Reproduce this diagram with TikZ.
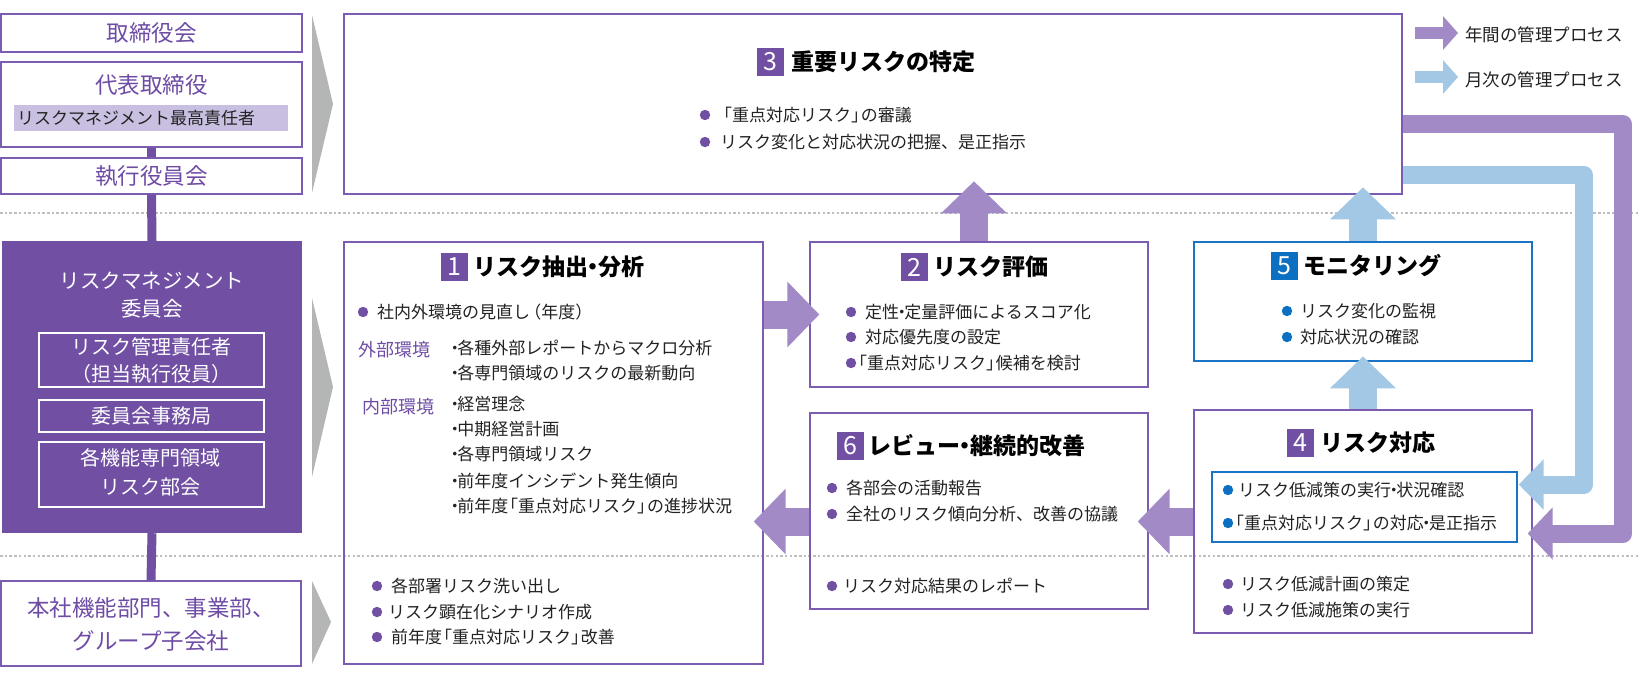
\documentclass[tikz,border=0pt]{standalone}
\usepackage{fontspec}
\setmainfont{Noto Sans CJK JP}
\usetikzlibrary{arrows.meta,calc}
\definecolor{pdark}{HTML}{7150A4}
\definecolor{parrow}{HTML}{A28AC7}
\definecolor{lblue}{HTML}{A3C8E5}
\definecolor{pborder}{HTML}{7B5CB0}
\definecolor{bblue}{HTML}{1A73C4}
\definecolor{bdot}{HTML}{0B6FC2}
\definecolor{hlbar}{HTML}{C9BFE0}
\definecolor{gchev}{HTML}{B4B5B5}
\definecolor{dotgray}{HTML}{BEBEBE}
\definecolor{tdark}{HTML}{222222}
\definecolor{ltext}{HTML}{6E4CA5}
\newcommand\tdot{{\kern-0.28em・\kern-0.28em}}
\newcommand\ndot{{\kern-0.35em・\kern-0.35em}}
\newcommand\lbr{{\kern-0.42em「}}
\newcommand\rbr{{」\kern-0.42em}}
\newcommand\lpar{{\kern-0.35em（}}
\newcommand\rpar{{）\kern-0.35em}}
% name, bullet x, text x, y centre, bullet colour, text
\newcommand\bitem[6]{\fill[#5] (#2,#4) circle (5.2pt); \node[body] (#1) at (#3,#4+6.5) {#6};}
\newcommand\pline[4]{\node[body] (#1) at (#2,#3+6.5) {#4};}
\tikzset{
  pbox/.style={draw=pborder, line width=1.4pt, inner sep=0pt},
  bbox/.style={draw=bblue, line width=1.4pt, inner sep=0pt},
  wbox/.style={draw=white, line width=1.2pt, inner sep=0pt},
  ltxt/.style={text=ltext, font=\fontsize{22.5}{33}\selectfont, align=center, inner sep=0pt},
  wtxt/.style={text=white, font=\fontsize{20}{27}\selectfont, align=center, inner sep=0pt},
  body/.style={text=tdark, font=\fontsize{17}{20}\selectfont, inner sep=0pt, anchor=base west},
  lab/.style={text=ltext, font=\fontsize{18}{20}\selectfont, inner sep=0pt, anchor=base west},
  ttl/.style={text=black, font=\fontsize{23}{26}\selectfont\bfseries, inner sep=0pt, anchor=base west},
  badge/.style={fill=#1, text=white, font=\fontsize{25}{25}\selectfont, minimum width=27pt, minimum height=28pt, inner sep=0pt},
  arrP/.style={color=parrow, line width=28pt, -{Triangle[length=32pt,width=64pt]}},
  arrB/.style={color=lblue, line width=28pt, -{Triangle[length=32pt,width=64pt]}},
  loopP/.style={color=parrow, line width=18pt, line join=round, -{Triangle[length=25pt,width=51pt]}},
  loopB/.style={color=lblue, line width=18pt, line join=round, -{Triangle[length=25pt,width=49pt]}},
  legP/.style={color=parrow, line width=12pt, -{Triangle[length=15pt,width=33pt]}},
  legB/.style={color=lblue, line width=12pt, -{Triangle[length=15pt,width=33pt]}},
  vbar/.style={draw=pdark, line width=9pt},
  dotline/.style={draw=dotgray, line width=2.2pt, dash pattern=on 2.5pt off 2.2pt}
}
\begin{document}
\begin{tikzpicture}[x=1pt,y=-1pt]
\useasboundingbox (0,0) rectangle (1640,680);
\fill[white] (0,0) rectangle (1640,680);
% separators
\draw[dotline] (0,213) -- (1640,213);
\draw[dotline] (0,556) -- (1640,556);
% ---------- left column ----------
\node[pbox, minimum width=301pt, minimum height=38pt] (boardA) at (151.5,33) {};
\node[ltxt] (boardAt) at (151.5,33) {取締役会};
\node[pbox, minimum width=301pt, minimum height=85pt] (boardB) at (151.5,104.5) {};
\node[ltxt] (boardBt) at (151.5,85) {代表取締役};
\node[fill=hlbar, minimum width=274pt, minimum height=26pt, inner sep=0pt] (hl) at (151,118) {};
\node[body, font=\fontsize{17}{20}\selectfont] (hlt) at (17,118+6.5) {リスクマネジメント最高責任者};
\node[pbox, minimum width=301pt, minimum height=36pt] (boardC) at (151.5,176) {};
\node[ltxt] (boardCt) at (151.5,176) {執行役員会};
\node[fill=pdark, minimum width=300pt, minimum height=292pt, inner sep=0pt] (rmc) at (152,387) {};
\node[wtxt, font=\fontsize{20.5}{28}\selectfont] (rmct) at (152,295) {リスクマネジメント\\委員会};
\node[wbox, minimum width=225pt, minimum height=54pt] (rm1) at (151.5,360) {};
\node[wtxt] (rm1t) at (151.5,360.5) {リスク管理責任者\\（担当執行役員）};
\node[wbox, minimum width=225pt, minimum height=32pt] (rm2) at (151.5,416) {};
\node[wtxt] (rm2t) at (151.5,416) {委員会事務局};
\node[wbox, minimum width=225pt, minimum height=65pt] (rm3) at (151.5,474.5) {};
\node[wtxt, font=\fontsize{20}{29}\selectfont] (rm3t) at (150,472.5) {各機能専門領域\\リスク部会};
\node[pbox, minimum width=300pt, minimum height=85pt] (hq) at (151,623.5) {};
\node[ltxt] (hqt) at (151,624.5) {本社機能部門、事業部、\\グループ子会社};
\draw[vbar] (boardB.south) -- (boardC.north);
\draw[vbar] (boardC.south) -- (rmc.north);
\draw[vbar] (rmc.south) -- (hq.north);
% chevrons
\fill[gchev] (312,15) -- (333,104) -- (312,193) -- cycle;
\fill[gchev] (312,298) -- (333,387) -- (312,477) -- cycle;
\fill[gchev] (312,581) -- (331,622) -- (312,664) -- cycle;
% ---------- main boxes ----------
\node[pbox, minimum width=1058pt, minimum height=180pt] (box3) at (873,104) {};
\node[pbox, minimum width=419pt, minimum height=422pt] (box1) at (553.5,453) {};
\node[pbox, minimum width=338pt, minimum height=145pt] (box2) at (979,314.5) {};
\node[pbox, minimum width=338pt, minimum height=196pt] (box6) at (979,511) {};
\node[bbox, minimum width=338pt, minimum height=119pt] (box5) at (1363,301.5) {};
\node[pbox, minimum width=338pt, minimum height=223pt] (box4) at (1363,521.5) {};
\node[bbox, minimum width=305pt, minimum height=70pt] (box4i) at (1364.5,507) {};
% ---------- box 3 ----------
\node[badge=pdark] (n3) at (770.5,62) {3};
\node[ttl] (t3) at (791,62+8.7) {重要リスクの特定};
\bitem{b3a}{705}{722}{115}{pdark}{\lbr 重点対応リスク\rbr の審議}
\bitem{b3b}{705}{720}{142}{pdark}{リスク変化と対応状況の把握、是正指示}
% ---------- box 1 ----------
\node[badge=pdark] (n1) at (454.5,267) {1};
\node[ttl] (t1) at (473,267+8.7) {リスク抽出\tdot 分析};
\bitem{b1a}{363}{377}{312}{pdark}{社内外環境の見直し\lpar 年度\rpar}
\node[lab] (l1ext) at (358,350+6.8) {外部環境};
\pline{b1b}{452}{348}{\ndot 各種外部レポートからマクロ分析}
\pline{b1c}{452}{373}{\ndot 各専門領域のリスクの最新動向}
\node[lab] (l1int) at (362,407+6.8) {内部環境};
\pline{b1d}{452}{404}{\ndot 経営理念}
\pline{b1e}{452}{429}{\ndot 中期経営計画}
\pline{b1f}{452}{454}{\ndot 各専門領域リスク}
\pline{b1g}{452}{481}{\ndot 前年度インシデント発生傾向}
\pline{b1h}{452}{506}{\ndot 前年度\lbr 重点対応リスク\rbr の進捗状況}
\bitem{b1i}{377}{391}{586}{pdark}{各部署リスク洗い出し}
\bitem{b1j}{377}{388}{612}{pdark}{リスク顕在化シナリオ作成}
\bitem{b1k}{377}{391}{637}{pdark}{前年度\lbr 重点対応リスク\rbr 改善}
% ---------- box 2 ----------
\node[badge=pdark] (n2) at (914.5,267) {2};
\node[ttl] (t2) at (933,267+8.7) {リスク評価};
\bitem{b2a}{851}{865}{312}{pdark}{定性\ndot 定量評価によるスコア化}
\bitem{b2b}{851}{865}{337}{pdark}{対応優先度の設定}
\bitem{b2c}{851}{857}{363}{pdark}{\lbr 重点対応リスク\rbr 候補を検討}
% ---------- box 6 ----------
\node[badge=pdark] (n6) at (850,445.5) {6};
\node[ttl] (t6) at (868,445.5+8.7) {レビュー\tdot 継続的改善};
\bitem{b6a}{832}{846}{488}{pdark}{各部会の活動報告}
\bitem{b6b}{832}{846}{514}{pdark}{全社のリスク傾向分析、改善の協議}
\bitem{b6c}{832}{843}{586}{pdark}{リスク対応結果のレポート}
% ---------- box 5 ----------
\node[badge=bdot] (n5) at (1284.5,266) {5};
\node[ttl] (t5) at (1303,266+8.7) {モニタリング};
\bitem{b5a}{1287}{1300}{311}{bdot}{リスク変化の監視}
\bitem{b5b}{1287}{1300}{337}{bdot}{対応状況の確認}
% ---------- box 4 ----------
\node[badge=pdark] (n4) at (1300.5,442.5) {4};
\node[ttl] (t4) at (1320,442.5+8.7) {リスク対応};
\bitem{b4a}{1228}{1238}{490}{bdot}{リスク低減策の実行\ndot 状況確認}
\bitem{b4b}{1228}{1234}{523}{bdot}{\lbr 重点対応リスク\rbr の対応\ndot 是正指示}
\bitem{b4c}{1228}{1240}{584}{pdark}{リスク低減計画の策定}
\bitem{b4d}{1228}{1240}{610}{pdark}{リスク低減施策の実行}
% ---------- block arrows ----------
\draw[arrP] ($(box2.north)+(-5,0)$) -- ($(box2.north)+(-5,-60)$);
\draw[arrB] (box5.north) -- ($(box5.north)+(0,-54)$);
\draw[arrB] (box4.north) -- ($(box4.north)+(0,-53)$);
\draw[arrP] (box1.east |- box2.west) -- ($(box2.west)+(10,0)$);
\draw[arrP] ($(box6.west)+(0,10.5)$) -- ($(box1.east |- box6.west)+(-10,10.5)$);
\draw[arrP] (box4.west) -- ($(box6.east |- box4.west)+(-11,0)$);
% ---------- loops ----------
\draw[loopP] ($(box3.north east)+(0,111)$) -| ($(box4.east)+(90.5,12)$) -- ($(box4.east)+(-5,12)$);
\draw[loopB] ($(box3.north east)+(0,162)$) -| ($(box4.east)+(51.5,-37)$) -- ($(box4.east)+(-14,-37)$);
% ---------- legend ----------
\coordinate (lg1a) at (1415,33);
\coordinate (lg1b) at (1458,33);
\coordinate (lg2a) at (1415,77);
\coordinate (lg2b) at (1458,77);
\draw[legP] (lg1a) -- (lg1b);
\draw[legB] (lg2a) -- (lg2b);
\node[body, font=\fontsize{17.5}{20}\selectfont] (lg1t) at (1465,35+6.6) {年間の管理プロセス};
\node[body, font=\fontsize{17.5}{20}\selectfont] (lg2t) at (1465,80+6.6) {月次の管理プロセス};
\end{tikzpicture}
\end{document}
